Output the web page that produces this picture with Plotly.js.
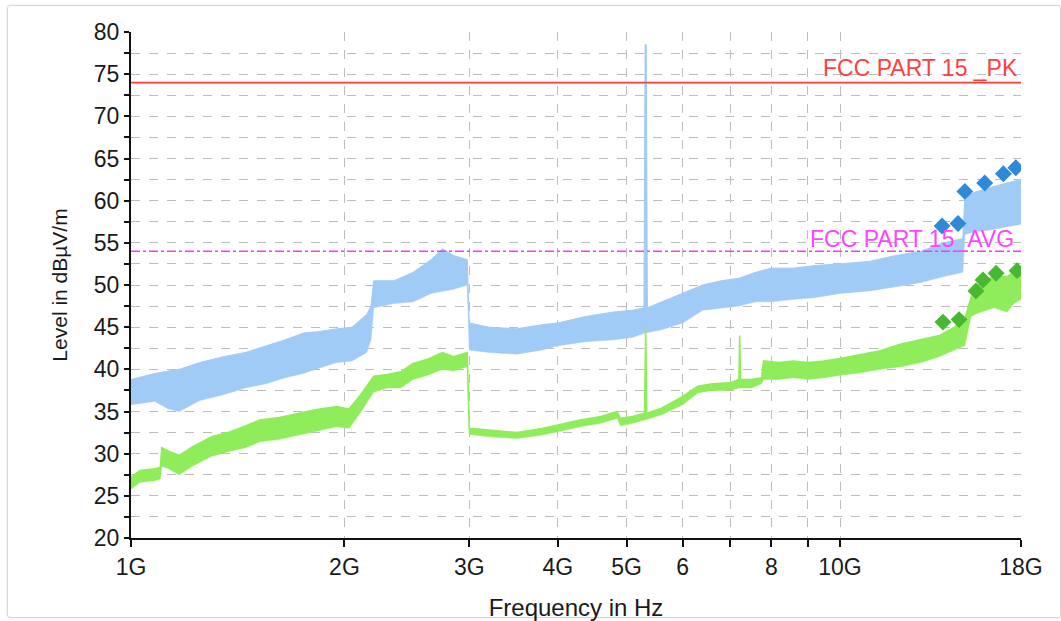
<!DOCTYPE html>
<html>
<head>
<meta charset="utf-8">
<script src="https://cdn.plot.ly/plotly-3.0.1.min.js"></script>
<style>
html,body{margin:0;padding:0;background:#fff;overflow:hidden;}
#frame{position:absolute;left:7px;top:5px;width:1052px;height:611px;border:1px solid #d6d6d6;border-radius:3px;box-shadow:0 0 3px #e6e6e6;}
#chart{position:absolute;left:0;top:0;width:1061px;height:621px;}
</style>
</head>
<body>
<div id="frame"></div>
<div id="chart"></div>
<script>
// Frequencies in GHz
const pkFreq = [1.00,1.08,1.13,1.17,1.25,1.35,1.45,1.55,1.65,1.75,1.85,1.95,2.05,2.15,2.18,2.20,2.35,2.50,2.65,2.75,2.85,2.98,3.00,3.2,3.5,3.8,4.0,4.4,4.8,5.1,5.29,5.31,5.33,5.35,5.6,6.0,6.4,6.8,7.2,7.6,8.0,8.6,9.2,10.0,11.0,12.0,13.0,14.0,14.9,15.0,15.5,16.2,17.0,18.0];
const pkHigh = [38.8,39.5,39.8,40.0,40.8,41.5,42.0,42.8,43.5,44.3,44.5,44.8,45.0,46.5,47.5,50.5,50.5,51.5,53.0,54.3,53.5,53.0,45.5,45.0,44.8,45.3,45.5,46.3,46.8,47.0,47.3,78.5,78.5,47.3,48.0,49.0,50.0,50.5,50.8,51.5,52.0,52.0,52.3,52.5,52.8,53.5,54.0,55.0,55.5,60.5,61.0,61.5,62.0,62.5];
const pkLowFreq = [1.00,1.08,1.13,1.17,1.25,1.35,1.45,1.55,1.65,1.75,1.85,1.95,2.05,2.15,2.18,2.20,2.35,2.50,2.65,2.75,2.85,2.98,3.00,3.2,3.5,3.8,4.0,4.4,4.8,5.1,5.3,5.6,6.0,6.4,6.8,7.2,7.6,8.0,8.6,9.2,10.0,11.0,12.0,13.0,14.0,14.9,15.0,15.5,16.2,17.0,18.0];
const pkLow = [35.8,36.2,35.3,35.0,36.3,37.0,37.8,38.3,39.0,39.5,40.2,40.8,41.0,42.0,43.5,47.3,47.8,48.0,49.0,49.3,49.5,50.0,42.3,42.0,41.8,42.3,42.8,43.3,43.5,43.8,44.3,44.7,45.5,47.0,47.3,47.5,48.0,48.0,48.3,48.5,49.0,49.3,49.8,50.3,51.0,51.5,56.0,56.3,56.5,56.8,57.2];

const avFreq = [1.00,1.03,1.08,1.10,1.105,1.13,1.17,1.22,1.30,1.38,1.45,1.52,1.62,1.72,1.82,1.95,2.03,2.10,2.20,2.30,2.40,2.50,2.62,2.75,2.85,2.98,3.00,3.2,3.5,3.8,4.0,4.3,4.6,4.85,4.90,5.1,5.30,5.32,5.34,5.6,6.0,6.3,6.6,7.0,7.20,7.22,7.24,7.5,7.75,7.8,8.2,8.6,9.0,9.5,10.0,10.7,11.4,12.2,13.0,13.8,14.5,15.0,15.3,15.8,16.5,17.2,17.6,18.0];
const avHigh = [27.2,28.0,28.2,28.4,30.7,30.3,29.8,30.8,32.0,32.6,33.3,34.0,34.3,34.8,35.2,35.6,35.3,36.8,39.2,39.4,39.7,40.7,41.2,42.0,41.5,42.0,33.0,32.8,32.5,33.0,33.4,34.0,34.4,35.0,34.2,34.4,34.8,45.0,34.8,35.4,36.8,38.0,38.3,38.4,38.8,44.0,38.8,38.8,39.0,41.0,40.8,41.0,40.8,41.0,41.3,41.8,42.2,43.0,43.5,44.0,45.0,46.0,48.5,50.5,51.0,51.0,51.5,51.5];
const avLowFreq = [1.00,1.03,1.08,1.10,1.105,1.13,1.17,1.22,1.30,1.38,1.45,1.52,1.62,1.72,1.82,1.95,2.03,2.10,2.20,2.30,2.40,2.50,2.62,2.75,2.85,2.98,3.00,3.2,3.5,3.8,4.0,4.3,4.6,4.85,4.90,5.1,5.3,5.6,6.0,6.3,6.6,7.0,7.2,7.5,7.75,7.8,8.2,8.6,9.0,9.5,10.0,10.7,11.4,12.2,13.0,13.8,14.5,15.0,15.3,15.8,16.5,17.2,17.6,18.0];
const avLow = [25.8,26.6,26.8,27.0,28.5,28.2,27.5,28.5,29.7,30.3,30.7,31.4,31.7,32.2,32.7,33.2,33.0,34.7,37.3,37.8,37.8,38.8,39.3,40.0,39.8,40.3,32.3,32.0,31.8,32.2,32.6,33.2,33.6,34.2,33.3,33.6,34.0,34.6,35.8,37.2,37.5,37.5,37.8,37.8,38.3,38.8,38.8,39.0,38.8,39.0,39.3,39.6,40.0,40.3,40.8,41.5,42.3,42.8,46.3,46.8,47.3,46.8,47.8,48.3];

const pkMarkFreq = [13.93,14.67,15.0,16.0,17.0,17.7];
const pkMarkVal = [57.0,57.3,61.1,62.1,63.2,63.9];
const avMarkFreq = [13.97,14.72,15.55,15.91,16.6,17.77];
const avMarkVal = [45.6,45.9,49.3,50.6,51.4,51.7];

const limitFreq = [1,18];
const pkLimit = [74,74];
const avLimit = [54,54];

const tickVals = [1,2,3,4,5,6,7,8,9,10,18];
const tickText = ['1G','2G','3G','4G','5G','6','','8','','10G','18G'];

const blueFill = '#a0cbf6';
const greenFill = '#8fec5a';

const traces = [
  {x: pkLowFreq, y: pkLow, mode:'lines', line:{width:0.5,color:blueFill}, hoverinfo:'skip', showlegend:false},
  {x: pkFreq, y: pkHigh, mode:'lines', line:{width:1,color:blueFill}, fill:'tonexty', fillcolor:blueFill, showlegend:false},
  {x: avLowFreq, y: avLow, mode:'lines', line:{width:0.5,color:greenFill}, hoverinfo:'skip', showlegend:false},
  {x: avFreq, y: avHigh, mode:'lines', line:{width:1.5,color:greenFill}, fill:'tonexty', fillcolor:greenFill, showlegend:false},
  {x: limitFreq, y: pkLimit, mode:'lines', line:{width:1.6,color:'#ff3b3b'}, showlegend:false},
  {x: limitFreq, y: avLimit, mode:'lines', line:{width:1.6,color:'#ff33ff',dash:'dashdot'}, showlegend:false},
  {x: pkMarkFreq, y: pkMarkVal, mode:'markers', marker:{symbol:'diamond',size:13,color:'#2e8ad8'}, showlegend:false},
  {x: avMarkFreq, y: avMarkVal, mode:'markers', marker:{symbol:'diamond',size:13,color:'#46b832'}, showlegend:false}
];

const layout = {
  width:1061, height:621,
  margin:{l:131, r:40, t:32, b:83},
  paper_bgcolor:'rgba(0,0,0,0)', plot_bgcolor:'#fff',
  font:{family:'Liberation Sans, Arial, sans-serif', color:'#1a1a1a'},
  xaxis:{
    type:'log', range:[0, Math.log10(18)],
    tickvals: tickVals, ticktext: tickText,
    ticks:'outside', ticklen:7, tickwidth:2, tickcolor:'#111',
    showline:true, linecolor:'#111', linewidth:2,
    showgrid:true, gridcolor:'#bdbdbd', griddash:'dash', gridwidth:1,
    tickfont:{size:23, color:'#1a1a1a'},
    zeroline:false,
    title:{text:'Frequency in Hz', font:{size:24, color:'#1a1a1a'}, standoff:22}
  },
  yaxis:{
    range:[20,80], dtick:5, tick0:20,
    ticks:'outside', ticklen:5, tickwidth:2, tickcolor:'#111',
    showline:true, linecolor:'#111', linewidth:2,
    showgrid:true, gridcolor:'#bdbdbd', griddash:'dash', gridwidth:1,
    minor:{dtick:2.5, tick0:20, ticks:'outside', ticklen:5, tickwidth:2, tickcolor:'#111', showgrid:true, gridcolor:'#bdbdbd', griddash:'dash', gridwidth:1},
    tickfont:{size:23, color:'#1a1a1a'},
    zeroline:false,
    title:{text:'Level in dBµV/m', font:{size:21, color:'#1a1a1a'}, standoff:20}
  },
  annotations:[
    {x: Math.log10(18), y:74, xref:'x', yref:'y', xanchor:'right', yanchor:'bottom', text:'FCC PART 15 _PK', showarrow:false, font:{size:23, color:'#ff4040'}, xshift:-1, yshift:0},
    {x: Math.log10(18), y:54, xref:'x', yref:'y', xanchor:'right', yanchor:'bottom', text:'FCC PART 15_AVG', showarrow:false, font:{size:23, color:'#ff44ff'}, xshift:-5, yshift:-3}
  ]
};

Plotly.newPlot('chart', traces, layout, {displayModeBar:false, staticPlot:true});
</script>
</body>
</html>
